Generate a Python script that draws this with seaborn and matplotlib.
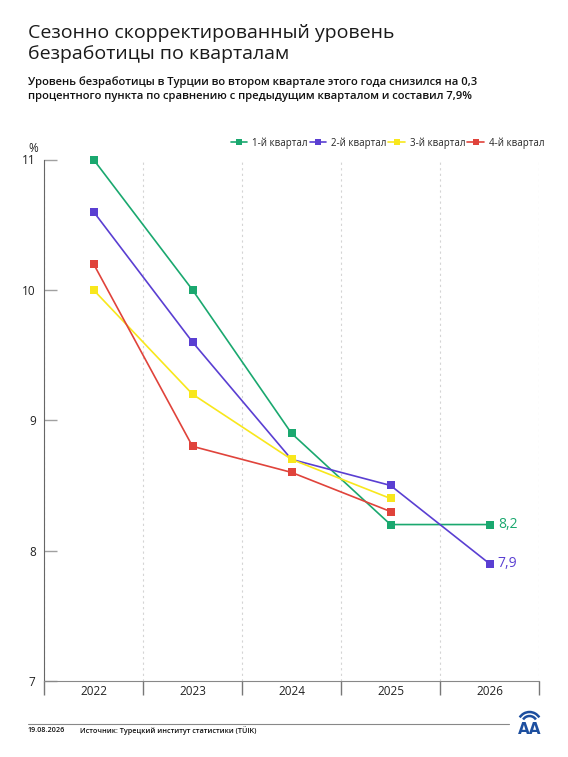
import numpy as np
import pandas as pd
import matplotlib
matplotlib.use('Agg')
import matplotlib.pyplot as plt
from matplotlib.lines import Line2D
from matplotlib.patches import Arc
import seaborn as sns

years = ['2022', '2023', '2024', '2025', '2026']
quarters = ['1-й квартал', '2-й квартал', '3-й квартал', '4-й квартал']
q1 = [11.0, 10.0, 8.9, 8.2, 8.2]
q2 = [10.6, 9.6, 8.7, 8.5, 7.9]
q3 = [10.0, 9.2, 8.7, 8.4]
q4 = [10.2, 8.8, 8.6, 8.3]
colors = ['#1aa86f', '#5a3fd2', '#f8e71c', '#e0433b']
yticks = [7, 8, 9, 10, 11]

title = 'Сезонно скорректированный уровень\nбезработицы по кварталам'
subtitle = ('Уровень безработицы в Турции во втором квартале этого года снизился на 0,3\n'
            'процентного пункта по сравнению с предыдущим кварталом и составил 7,9%')
date_txt = '19.08.2026'
source_txt = 'Источник: Турецкий институт статистики (TÜIK)'

rows = []
for name, vals in zip(quarters, [q1, q2, q3, q4]):
    for i, v in enumerate(vals):
        rows.append({'pos': i, 'year': years[i], 'quarter': name, 'value': v})
df = pd.DataFrame(rows)

sns.set_style('white')
plt.rcParams['font.family'] = ['Open Sans', 'DejaVu Sans']

fig = plt.figure(figsize=(5.68, 7.57), dpi=100)
ax = fig.add_axes([44 / 568, 1 - 681 / 757, (539 - 44) / 568, (681 - 159.5) / 757])

palette = dict(zip(quarters, colors))
sns.lineplot(data=df, x='pos', y='value', hue='quarter', hue_order=quarters,
             palette=palette, marker='s', markersize=5.5, markeredgewidth=0,
             linewidth=1.2, legend=False, ax=ax, zorder=3)
for ln in ax.lines:
    ln.set_clip_on(False)

ax.set_xlim(-0.5, 4.5)
ax.set_ylim(7, 11)
ax.set_xlabel('')
ax.set_ylabel('')

# band edges as major ticks, year names centred as minor ticks
ax.set_xticks(np.arange(-0.5, 5.0, 1.0))
ax.set_xticklabels([])
ax.set_xticks(range(len(years)), minor=True)
ax.set_xticklabels(years, minor=True, fontsize=8.5, color='#222222')
ax.tick_params(axis='x', which='major', direction='out', length=10, width=1,
               color='#777777', bottom=True)
ax.tick_params(axis='x', which='minor', length=0, pad=3)
ax.grid(axis='x', which='major', linestyle=(0, (2, 3)), color='#d4d4d4', linewidth=0.8)

ax.set_yticks(yticks)
ax.set_yticklabels([str(t) for t in yticks], fontsize=8.5, color='#222222')
ax.tick_params(axis='y', direction='in', length=9.5, width=1, color='#a0a0a0',
               left=True, pad=6)

for side in ['top', 'right']:
    ax.spines[side].set_visible(False)
ax.spines['left'].set_color('#666666')
ax.spines['bottom'].set_color('#888888')

# end value labels
ax.annotate('8,2', (4, q1[-1]), xytext=(6, 0), textcoords='offset points',
            ha='left', va='center', fontsize=10, color=colors[0])
ax.annotate('7,9', (4, q2[-1]), xytext=(6, 0), textcoords='offset points',
            ha='left', va='center', fontsize=10, color=colors[1])

handles = [Line2D([0], [0], color=c, marker='s', markersize=5, markeredgewidth=0,
                  linewidth=1.2) for c in colors]
fig.legend(handles, quarters, loc='center right', bbox_to_anchor=(549 / 568, 1 - 143 / 757),
           ncol=4, frameon=False, fontsize=7, handlelength=1.7, handletextpad=0.5,
           columnspacing=0.2, borderpad=0)

fig.text(33 / 568, 1 - 148 / 757, '%', fontsize=8.5, ha='center', va='center', color='#222222')

fig.text(28 / 568, 1 - 24 / 757, title, fontsize=14, ha='left', va='top',
         color='#1a1a1a', linespacing=1.22)
fig.text(28 / 568, 1 - 76 / 757, subtitle, fontsize=8.1, ha='left', va='top',
         color='#111111', fontweight='semibold', linespacing=1.45)

# footer
fig.add_artist(Line2D([28 / 568, 509 / 568], [1 - 723.5 / 757] * 2, color='#888888', linewidth=0.8))
fig.text(28 / 568, 1 - 731 / 757, date_txt, fontsize=5.2, ha='left', va='center',
         color='#111111', fontweight='semibold')
fig.text(80 / 568, 1 - 731 / 757, source_txt, fontsize=5.2, ha='left', va='center',
         color='#111111', fontweight='semibold')

# agency logo: letters under two arcs
logo_blue = '#1d4f9f'
fig.text(529.5 / 568, 1 - 729 / 757, 'AA', fontsize=11, ha='center', va='center',
         color=logo_blue, fontweight='bold', family='DejaVu Sans Condensed')
for w in (23, 15):
    fig.add_artist(Arc((529.5 / 568, 1 - 723.5 / 757), w / 568, w / 757, theta1=25, theta2=155,
                       transform=fig.transFigure, color=logo_blue, linewidth=1.8))

fig.savefig('out.png', dpi=100)
